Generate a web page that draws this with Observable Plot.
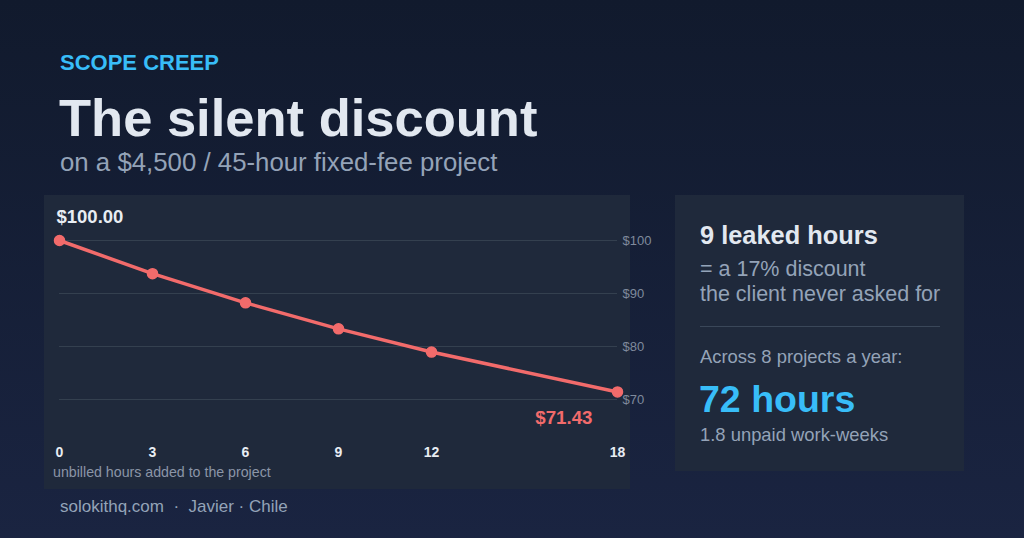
<!DOCTYPE html>
<html>
<head>
<meta charset="utf-8">
<script src="https://cdn.jsdelivr.net/npm/d3@7"></script>
<script src="https://cdn.jsdelivr.net/npm/@observablehq/plot@0.6"></script>
<style>
  html, body { margin: 0; padding: 0; }
  body {
    width: 1024px; height: 538px; overflow: hidden; position: relative;
    background: linear-gradient(180deg, #111a2d 0%, #1a2441 100%);
    font-family: "Liberation Sans", Arial, sans-serif;
  }
  .abs { position: absolute; white-space: nowrap; line-height: normal; }
  #kicker { left: 60px; top: 49.5px; font-size: 22px; font-weight: bold; color: #38bdf8; }
  #title { left: 59px; top: 87px; font-size: 52.5px; font-weight: bold; color: #e2e8f0; }
  #subtitle { left: 60px; top: 147.5px; font-size: 25.8px; color: #94a3b8; }
  #panel { left: 44px; top: 195px; width: 586px; height: 294px; background: #1f293b; }
  #chart { left: 44px; top: 195px; }
  #chart svg { overflow: visible; }
  #xlabel { left: 53px; top: 464px; font-size: 14.2px; color: #8b95a7; }
  #card { left: 675px; top: 195px; width: 289px; height: 276px; background: #1f293b; }
  #c1 { left: 700px; top: 221px; font-size: 25.4px; font-weight: bold; color: #e2e8f0; }
  #c2 { left: 700px; top: 256.5px; font-size: 21.5px; color: #94a3b8; line-height: 25px; }
  #div { left: 700px; top: 326px; width: 240px; height: 1px; background: #3a4759; }
  #c3 { left: 700px; top: 346px; font-size: 18.4px; color: #94a3b8; }
  #c4 { left: 699px; top: 378px; font-size: 37.5px; font-weight: bold; color: #38bdf8; }
  #c5 { left: 700px; top: 424px; font-size: 18.4px; color: #94a3b8; }
  #footer { left: 60px; top: 496.5px; font-size: 17px; color: #94a3b8; }
</style>
</head>
<body>
<div class="abs" id="kicker">SCOPE CREEP</div>
<div class="abs" id="title">The silent discount</div>
<div class="abs" id="subtitle">on a $4,500 / 45-hour fixed-fee project</div>
<div class="abs" id="panel"></div>
<div class="abs" id="chart"></div>
<div class="abs" id="xlabel">unbilled hours added to the project</div>
<div class="abs" id="card"></div>
<div class="abs" id="c1">9 leaked hours</div>
<div class="abs" id="c2">= a 17% discount<br>the client never asked for</div>
<div class="abs" id="div"></div>
<div class="abs" id="c3">Across 8 projects a year:</div>
<div class="abs" id="c4">72 hours</div>
<div class="abs" id="c5">1.8 unpaid work-weeks</div>
<div class="abs" id="footer">solokithq.com &nbsp;·&nbsp; Javier · Chile</div>
<script>
const hours = [0, 3, 6, 9, 12, 18];
const rates = [100.00, 93.75, 88.24, 83.33, 78.95, 71.43];
const yTicks = [70, 80, 90, 100];
const xTicks = [0, 3, 6, 9, 12, 18];

const data = hours.map((h, i) => ({hours: h, rate: rates[i]}));
const first = [data[0]];
const last = [data[data.length - 1]];
const lineColor = "#f26b6b";

const chart = Plot.plot({
  width: 586,
  height: 294,
  marginLeft: 15,
  marginRight: 13,
  marginTop: 20,
  marginBottom: 46,
  style: {background: "transparent", fontFamily: "Liberation Sans, Arial, sans-serif", overflow: "visible"},
  x: {domain: [0, 18], range: [15, 573]},
  y: {domain: [70, 100], range: [204, 45]},
  marks: [
    Plot.gridY(yTicks, {stroke: "#34404f", strokeOpacity: 1, strokeWidth: 1}),
    Plot.axisY(yTicks, {anchor: "right", tickSize: 0, tickPadding: 5, tickFormat: d => "$" + d, fill: "#7f8a9c", fontSize: 13, label: null}),
    Plot.axisX(xTicks, {anchor: "bottom", tickSize: 0, tickPadding: 4, fill: "#e8edf3", fontSize: 14, fontWeight: "bold", label: null}),
    Plot.line(data, {x: "hours", y: "rate", stroke: lineColor, strokeWidth: 3.5}),
    Plot.dot(data, {x: "hours", y: "rate", r: 5, fill: lineColor, stroke: lineColor}),
    Plot.text(first, {x: "hours", y: "rate", text: d => "$" + d.rate.toFixed(2), textAnchor: "start", dx: -3, dy: -23, fill: "#e8edf3", fontSize: 18.5, fontWeight: "bold"}),
    Plot.text(last, {x: "hours", y: "rate", text: d => "$" + d.rate.toFixed(2), textAnchor: "end", dx: -25, dy: 26, fill: lineColor, fontSize: 18.7, fontWeight: "bold"})
  ]
});
document.getElementById("chart").appendChild(chart);
</script>
</body>
</html>
